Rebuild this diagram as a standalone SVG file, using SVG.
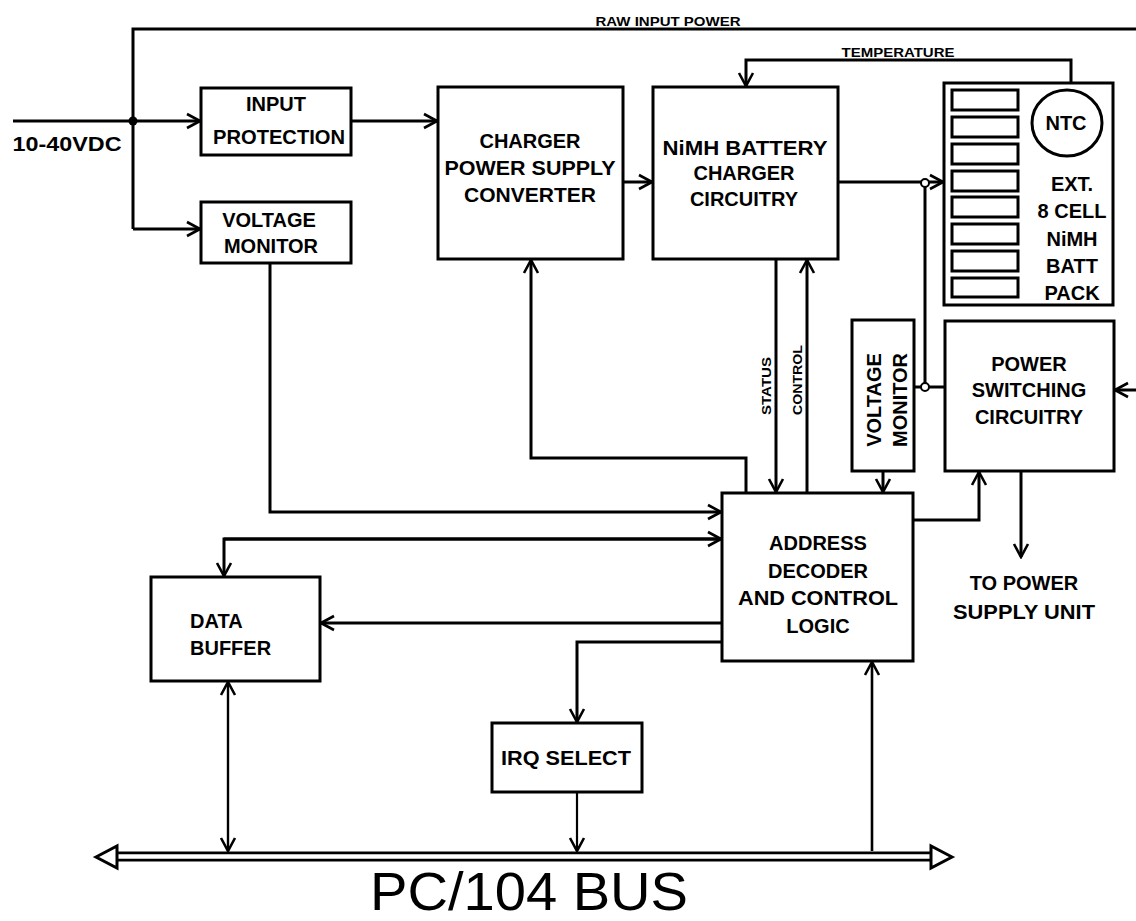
<svg xmlns="http://www.w3.org/2000/svg" width="1136" height="921" viewBox="0 0 1136 921">
<style>
.box{fill:#fff;stroke:#000;stroke-width:3}
.cell{fill:#fff;stroke:#000;stroke-width:3}
.ln{fill:none;stroke:#000;stroke-width:3}
.arr{fill:none;stroke:#000;stroke-width:3;marker-end:url(#ah)}
.t{font-family:"Liberation Sans",Arial,sans-serif;font-weight:bold;font-size:20px;text-anchor:middle;fill:#000}
.s{font-family:"Liberation Sans",Arial,sans-serif;font-weight:bold;font-size:12px;text-anchor:middle;fill:#000}
</style>
<defs>
<marker id="ah" markerUnits="userSpaceOnUse" markerWidth="16" markerHeight="18" refX="14" refY="9" orient="auto-start-reverse" viewBox="0 0 16 18">
<path d="M1,2 L14,9 L1,16" fill="none" stroke="#000" stroke-width="2.6"/>
</marker>
</defs>
<rect width="1136" height="921" fill="#fff"/>

<g id="connectors">
<path class="ln" d="M133,229 V29 H1136"/>
<path class="arr" d="M13,121 H200"/>
<path class="arr" d="M133,229 H200"/>
<circle cx="133" cy="121" r="4.5" fill="#000"/>
<path class="arr" d="M351,121 H437"/>
<path class="arr" d="M623,182 H652"/>
<path class="arr" d="M1071,90 V60 H746 V86"/>
<path class="arr" d="M838,182 H943"/>
<path class="ln" d="M925,183 V387"/>
<path class="ln" d="M913,387 H945"/>
<circle cx="925" cy="183" r="4" fill="#fff" stroke="#000" stroke-width="2"/>
<circle cx="925" cy="387" r="4" fill="#fff" stroke="#000" stroke-width="2"/>
<path class="arr" d="M1136,390 H1115"/>
<path class="arr" d="M1021,471 V557"/>
<path class="arr" d="M913,520 H979 V472"/>
<path class="arr" d="M883,471 V492"/>
<path class="arr" d="M776,259 V492"/>
<path class="arr" d="M807,493 V260"/>
<path class="arr" d="M746,493 V458 H531 V260"/>
<path class="arr" d="M270,263 V512 H721"/>
<path class="arr" d="M722,539 H224 V576"/>
<path class="arr" d="M224,539 H721"/>
<path class="arr" d="M722,623 H321"/>
<path class="arr" d="M722,642 H577 V722"/>
<path class="arr" d="M577,792 V851" style="stroke-width:2.2"/>
<path class="arr" d="M228,851 V682" style="marker-start:url(#ah);stroke-width:2.4"/>
<path class="arr" d="M872,851 V662" style="stroke-width:2.6"/>
</g>

<g id="bus">
<line x1="112" y1="856.5" x2="936" y2="856.5" stroke="#000" stroke-width="10"/>
<line x1="110" y1="856.5" x2="938" y2="856.5" stroke="#fff" stroke-width="4.5"/>
<polygon points="96,857 117,846 117,868" fill="#fff" stroke="#000" stroke-width="3" stroke-linejoin="miter"/>
<polygon points="952,857 931,846 931,868" fill="#fff" stroke="#000" stroke-width="3" stroke-linejoin="miter"/>
<text x="529" y="910" font-family="'Liberation Sans',Arial,sans-serif" font-size="54" text-anchor="middle" textLength="318" lengthAdjust="spacingAndGlyphs">PC/104 BUS</text>
</g>

<g id="labels">
<text class="s" x="668" y="26" textLength="145" lengthAdjust="spacingAndGlyphs">RAW INPUT POWER</text>
<text class="s" x="898" y="57" textLength="113" lengthAdjust="spacingAndGlyphs">TEMPERATURE</text>
<text class="t" x="67" y="151" textLength="109" lengthAdjust="spacingAndGlyphs">10-40VDC</text>
<text class="s" transform="translate(771,386) rotate(-90)" textLength="58" lengthAdjust="spacingAndGlyphs">STATUS</text>
<text class="s" transform="translate(802,380) rotate(-90)" textLength="70" lengthAdjust="spacingAndGlyphs">CONTROL</text>
<text class="t" x="1024" y="590">TO POWER</text>
<text class="t" x="1024" y="619" textLength="142" lengthAdjust="spacingAndGlyphs">SUPPLY UNIT</text>
</g>

<g id="input-protection">
<rect class="box" x="201" y="88" width="150" height="67"/>
<text class="t" x="276" y="111">INPUT</text>
<text class="t" x="279" y="144" textLength="132" lengthAdjust="spacingAndGlyphs">PROTECTION</text>
</g>

<g id="voltage-monitor-1">
<rect class="box" x="201" y="202" width="150" height="61"/>
<text class="t" x="269" y="227">VOLTAGE</text>
<text class="t" x="271" y="253">MONITOR</text>
</g>

<g id="charger-psu">
<rect class="box" x="438" y="87" width="185" height="172"/>
<text class="t" x="530" y="148">CHARGER</text>
<text class="t" x="530" y="175" textLength="171" lengthAdjust="spacingAndGlyphs">POWER SUPPLY</text>
<text class="t" x="530" y="202" textLength="132" lengthAdjust="spacingAndGlyphs">CONVERTER</text>
</g>

<g id="nimh-charger">
<rect class="box" x="653" y="87" width="185" height="172"/>
<text class="t" x="745" y="155" textLength="165" lengthAdjust="spacingAndGlyphs">NiMH BATTERY</text>
<text class="t" x="744" y="180">CHARGER</text>
<text class="t" x="744" y="206">CIRCUITRY</text>
</g>

<g id="battery-pack">
<rect class="box" x="944" y="83" width="169" height="222"/>
<rect class="cell" x="952" y="90" width="66" height="20"/>
<rect class="cell" x="952" y="117" width="66" height="20"/>
<rect class="cell" x="952" y="144" width="66" height="20"/>
<rect class="cell" x="952" y="171" width="66" height="20"/>
<rect class="cell" x="952" y="197" width="66" height="20"/>
<rect class="cell" x="952" y="224" width="66" height="20"/>
<rect class="cell" x="952" y="251" width="66" height="20"/>
<rect class="cell" x="952" y="278" width="66" height="19"/>
<ellipse cx="1067" cy="123" rx="35" ry="33" fill="#fff" stroke="#000" stroke-width="3"/>
<text class="t" x="1066" y="130">NTC</text>
<text class="t" x="1072" y="191">EXT.</text>
<text class="t" x="1072" y="218">8 CELL</text>
<text class="t" x="1072" y="246">NiMH</text>
<text class="t" x="1072" y="273">BATT</text>
<text class="t" x="1072" y="300">PACK</text>
</g>

<g id="voltage-monitor-2">
<rect class="box" x="852" y="320" width="62" height="151"/>
<text class="t" transform="translate(881,400) rotate(-90)">VOLTAGE</text>
<text class="t" transform="translate(907,400) rotate(-90)">MONITOR</text>
</g>

<g id="power-switching">
<rect class="box" x="945" y="321" width="169" height="150"/>
<text class="t" x="1029" y="371">POWER</text>
<text class="t" x="1029" y="397">SWITCHING</text>
<text class="t" x="1029" y="424">CIRCUITRY</text>
</g>

<g id="address-decoder">
<rect class="box" x="722" y="493" width="191" height="168"/>
<text class="t" x="818" y="550">ADDRESS</text>
<text class="t" x="818" y="578">DECODER</text>
<text class="t" x="818" y="605" textLength="160" lengthAdjust="spacingAndGlyphs">AND CONTROL</text>
<text class="t" x="818" y="633">LOGIC</text>
</g>

<g id="data-buffer">
<rect class="box" x="151" y="577" width="169" height="104"/>
<text class="t" x="190" y="628" style="text-anchor:start">DATA</text>
<text class="t" x="190" y="655" style="text-anchor:start">BUFFER</text>
</g>

<g id="irq-select">
<rect class="box" x="492" y="723" width="150" height="69"/>
<text class="t" x="566" y="765" textLength="130" lengthAdjust="spacingAndGlyphs">IRQ SELECT</text>
</g>
</svg>
